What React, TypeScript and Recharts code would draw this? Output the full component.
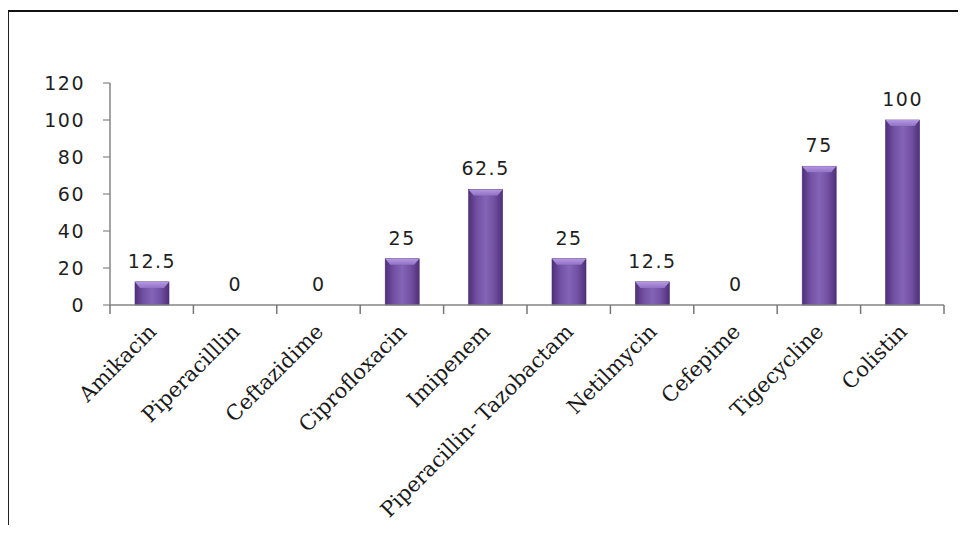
import { BarChart, Bar, XAxis, YAxis, LabelList } from 'recharts';

const drugs = [
    'Amikacin',
    'Piperacilllin',
    'Ceftazidime',
    'Ciprofloxacin',
    'Imipenem',
    'Piperacillin- Tazobactam',
    'Netilmycin',
    'Cefepime',
    'Tigecycline',
    'Colistin',
];
const percent = [12.5, 0, 0, 25, 62.5, 25, 12.5, 0, 75, 100];
const yTicks = [0, 20, 40, 60, 80, 100, 120];

const W = 966;
const H = 533;
const M = { top: 83, right: 22, bottom: 28, left: 0 };
const Y_W = 110;
const PLOT_H = 222;
const AXIS_Y = M.top + PLOT_H;
const BAND = (W - M.left - M.right - Y_W) / drugs.length;
const AXIS = '#858585';

const data = drugs.map((name, i) => ({ name, value: percent[i] }));

// bevelled purple bar, like the old excel 3d look
const BevelBar = (props: any) => {
    const { x, y, width, height } = props;
    if (!height || height <= 0) return null;
    const bevel = Math.min(6, height / 2);
    return (
        <g>
            <rect x={x} y={y} width={width} height={height} fill="url(#barGrad)" stroke="#4a2c72" strokeWidth={0.6} />
            <path
                d={`M${x},${y} L${x + width},${y} L${x + width - 5},${y + bevel} L${x + 5},${y + bevel} Z`}
                fill="url(#topGrad)"
            />
        </g>
    );
};

const DrugTick = (props: any) => {
    const { x, payload, index } = props;
    const ax = x + 6;
    const ay = AXIS_Y + 28;
    const half = BAND / 2;
    const left = x - half;
    const right = x + half;
    return (
        <g>
            <path d={`M${left},${AXIS_Y}v9`} stroke="#777" strokeWidth={1.5} fill="none" />
            {index === drugs.length - 1 && (
                <path d={`M${right},${AXIS_Y}v9`} stroke="#777" strokeWidth={1.5} fill="none" />
            )}
            <text
                x={ax}
                y={ay}
                textAnchor="end"
                transform={`rotate(-45, ${ax}, ${ay})`}
                fontFamily="'DejaVu Serif', serif"
                fontSize={21}
                fill="#1a1a1a"
            >
                {payload.value}
            </text>
        </g>
    );
};

export default function App() {
    return (
        <div style={{ position: 'relative', width: W, height: H, margin: -8, background: '#fff' }}>
            <div
                style={{
                    position: 'absolute',
                    left: 6,
                    top: 10,
                    right: 0,
                    bottom: 0,
                    borderTop: '2px solid #111',
                    borderLeft: '3px solid #222',
                }}
            />
            <BarChart width={W} height={H} data={data} margin={M} style={{ position: 'absolute', left: 0, top: 0 }}>
                <defs>
                    <linearGradient id="barGrad" x1="0" y1="0" x2="1" y2="0">
                        <stop offset="0%" stopColor="#4f3079" />
                        <stop offset="25%" stopColor="#7251a3" />
                        <stop offset="50%" stopColor="#8464b6" />
                        <stop offset="75%" stopColor="#7251a3" />
                        <stop offset="100%" stopColor="#4f3079" />
                    </linearGradient>
                    <linearGradient id="topGrad" x1="0" y1="0" x2="0" y2="1">
                        <stop offset="0%" stopColor="#b597e3" />
                        <stop offset="100%" stopColor="#9272c4" />
                    </linearGradient>
                </defs>
                <XAxis
                    dataKey="name"
                    interval={0}
                    height={H - M.top - M.bottom - PLOT_H}
                    tickLine={false}
                    axisLine={{ stroke: AXIS, strokeWidth: 1.5 }}
                    tick={<DrugTick />}
                />
                <YAxis
                    width={Y_W}
                    domain={[0, 120]}
                    ticks={yTicks}
                    interval={0}
                    axisLine={{ stroke: AXIS, strokeWidth: 1.5 }}
                    tickLine={{ stroke: AXIS, strokeWidth: 1.2 }}
                    tickSize={7}
                    tickMargin={18}
                    tick={{ fill: '#1f1f1f', fontSize: 19, fontFamily: "'DejaVu Sans', sans-serif", letterSpacing: 1.5 }}
                />
                <Bar dataKey="value" barSize={34} shape={<BevelBar />} isAnimationActive={false}>
                    <LabelList
                        dataKey="value"
                        position="top"
                        offset={14}
                        fill="#1f1f1f"
                        fontSize={19}
                        fontFamily="'DejaVu Sans', sans-serif"
                        letterSpacing={1.5}
                    />
                </Bar>
            </BarChart>
        </div>
    );
}
